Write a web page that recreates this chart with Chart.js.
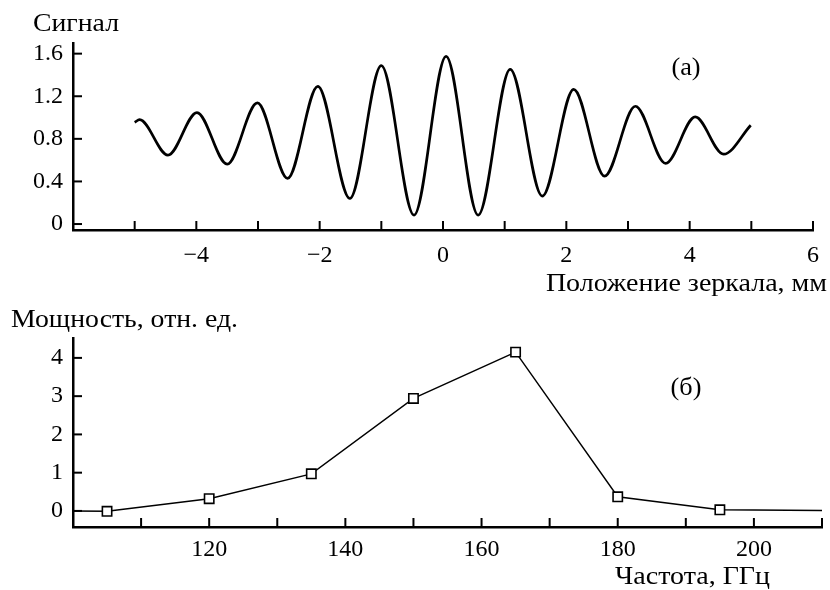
<!DOCTYPE html>
<html><head><meta charset="utf-8">
<script src="https://cdn.jsdelivr.net/npm/chart.js@4"></script>
<style>
html,body{margin:0;padding:0;background:#fff;}
#wrap{position:relative;width:830px;height:590px;background:#fff;}
.box{position:absolute;left:0;width:830px;}
</style></head><body>
<div id="wrap">
  <div class="box" style="top:0;height:300px"><canvas id="c1" width="830" height="300"></canvas></div>
  <div class="box" style="top:300px;height:290px"><canvas id="c2" width="830" height="290"></canvas></div>
</div>
<script>
// ---- data: panel (a) interferogram ----
const mirrorPos = [-5.00,-4.92,-4.46,-3.99,-3.50,-3.01,-2.52,-2.03,-1.51,-1.00,-0.47,0.05,0.57,1.09,1.61,2.12,2.62,3.12,3.61,4.09,4.55,4.99];
const signal    = [0.955,0.980,0.647,1.047,0.562,1.137,0.428,1.293,0.240,1.487,0.084,1.575,0.084,1.453,0.262,1.265,0.450,1.106,0.569,1.006,0.656,0.928];
const xTicksA  = [-5,-4,-3,-2,-1,0,1,2,3,4,5,6];
const xLabelsA = [-4,-2,0,2,4,6];
const yTicksA  = [0,0.4,0.8,1.2,1.6];

// ---- data: panel (б) spectrum ----
const freq  = [100,105,120,135,150,165,180,195,210];
const power = [0.00,-0.01,0.32,0.97,2.94,4.15,0.37,0.03,0.01];
const xTicksB  = [110,120,130,140,150,160,170,180,190,200,210];
const xLabelsB = [120,140,160,180,200];
const yTicksB  = [0,1,2,3,4];

const SERIF = "'Liberation Serif','Times New Roman',serif";
Chart.defaults.font.family = SERIF;
Chart.defaults.color = '#000';

const fmtNum = v => (v < 0 ? '\u2212' + Math.abs(v) : String(v));

const inwardTicks = {
  id: 'inwardTicks',
  afterDatasetsDraw(chart, args, opts) {
    const {ctx, chartArea: a, scales} = chart;
    const len = opts.length || 9;
    ctx.save();
    ctx.strokeStyle = '#000';
    ctx.lineWidth = opts.width || 2;
    scales.x.ticks.forEach(t => {
      const p = scales.x.getPixelForValue(t.value);
      ctx.beginPath(); ctx.moveTo(p, a.bottom); ctx.lineTo(p, a.bottom - len); ctx.stroke();
    });
    scales.y.ticks.forEach(t => {
      const p = scales.y.getPixelForValue(t.value);
      ctx.beginPath(); ctx.moveTo(a.left, p); ctx.lineTo(a.left + len, p); ctx.stroke();
    });
    ctx.restore();
  }
};

const texts = {
  id: 'texts',
  afterDraw(chart, args, opts) {
    const ctx = chart.ctx;
    (opts.items || []).forEach(it => {
      ctx.save();
      ctx.translate(it.x, it.y);
      ctx.scale(it.sx || 1, 1);
      ctx.font = it.font;
      ctx.fillStyle = '#000';
      ctx.textAlign = it.align || 'left';
      ctx.textBaseline = 'alphabetic';
      ctx.fillText(it.text, 0, 0);
      ctx.restore();
    });
  }
};

function axisX(ticksArr, labelsArr, min, max, fontSize, pad, h) {
  return {
    type: 'linear', min, max,
    grid: {display: false, drawTicks: false},
    border: {display: true, color: '#000', width: 2.5},
    afterBuildTicks: s => { s.ticks = ticksArr.map(v => ({value: v})); },
    afterFit: s => { s.height = h; },
    ticks: {
      autoSkip: false, maxRotation: 0, padding: pad,
      font: {size: fontSize},
      callback: v => labelsArr.includes(v) ? fmtNum(v) : ''
    }
  };
}
function axisY(ticksArr, min, max, fontSize, fmt, w) {
  return {
    type: 'linear', min, max,
    grid: {display: false, drawTicks: false},
    border: {display: true, color: '#000', width: 2.5},
    afterBuildTicks: s => { s.ticks = ticksArr.map(v => ({value: v})); },
    afterFit: s => { s.width = w; },
    ticks: {autoSkip: false, padding: 10, font: {size: fontSize}, callback: fmt}
  };
}

new Chart(document.getElementById('c1'), {
  type: 'line',
  data: {
    datasets: [{
      data: mirrorPos.map((x, i) => ({x, y: signal[i]})),
      borderColor: '#000', borderWidth: 2.7,
      pointRadius: 0, cubicInterpolationMode: 'monotone', fill: false
    }]
  },
  options: {
    responsive: false, animation: false,
    layout: {padding: {left: 0, right: 7, top: 43, bottom: 0}},
    plugins: {
      legend: {display: false}, tooltip: {enabled: false},
      inwardTicks: {length: 9, width: 2},
      texts: {items: [
        {text: 'Сигнал', x: 33, y: 31, font: `25px ${SERIF}`, sx: 1.11},
        {text: 'Положение зеркала, мм', x: 827, y: 291, align: 'right', font: `25px ${SERIF}`, sx: 1.12},
        {text: '(a)', x: 686, y: 75, align: 'center', font: `25px ${SERIF}`, sx: 1.05}
      ]}
    },
    scales: {
      x: axisX(xTicksA, xLabelsA, -6, 6, 24, 11, 70),
      y: axisY(yTicksA, -0.056, 1.7, 24, v => (v === 0 ? '0' : v.toFixed(1)), 73)
    }
  },
  plugins: [inwardTicks, texts]
});

new Chart(document.getElementById('c2'), {
  type: 'line',
  data: {
    datasets: [{
      data: freq.map((x, i) => ({x, y: power[i]})),
      borderColor: '#000', borderWidth: 1.4,
      pointStyle: 'rect',
      pointRadius: c => (c.dataIndex === 0 || c.dataIndex === freq.length - 1) ? 0 : 6.6,
      pointBorderWidth: 1.6, pointBackgroundColor: '#fff', pointBorderColor: '#000',
      tension: 0, fill: false
    }]
  },
  options: {
    responsive: false, animation: false,
    layout: {padding: {left: 0, right: 7, top: 38, bottom: 0}},
    plugins: {
      legend: {display: false}, tooltip: {enabled: false},
      inwardTicks: {length: 9, width: 2},
      texts: {items: [
        {text: 'Мощность, отн. ед.', x: 11, y: 27, font: `25px ${SERIF}`, sx: 1.11},
        {text: 'Частота, ГГц', x: 770, y: 284, align: 'right', font: `25px ${SERIF}`, sx: 1.12},
        {text: '(б)', x: 686, y: 95, align: 'center', font: `25px ${SERIF}`, sx: 1.05}
      ]}
    },
    scales: {
      x: axisX(xTicksB, xLabelsB, 100, 210, 24, 8, 63),
      y: axisY(yTicksB, -0.42, 4.52, 24, v => String(v), 73)
    }
  },
  plugins: [inwardTicks, texts]
});
</script>
</body></html>
